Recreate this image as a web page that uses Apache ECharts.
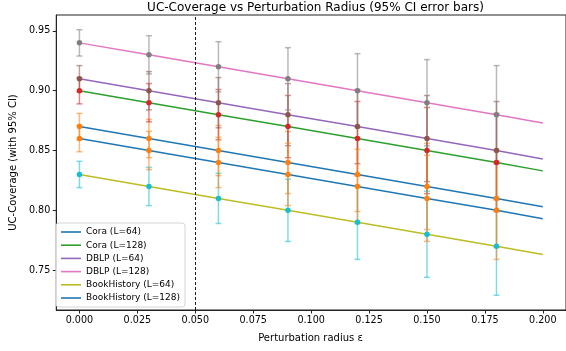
<!DOCTYPE html>
<html>
<head>
<meta charset="utf-8">
<script src="https://cdn.jsdelivr.net/npm/echarts@6/dist/echarts.min.js"></script>
<style>
  html, body { margin: 0; padding: 0; background: #fff; }
  #main { width: 566px; height: 351px; }
</style>
</head>
<body>
<div id="main"></div>
<script>
// x positions of the markers / error bars, line runs on to 0.2
const eps = [0, 0.03, 0.06, 0.09, 0.12, 0.15, 0.18];
const lineEps = [0, 0.03, 0.06, 0.09, 0.12, 0.15, 0.18, 0.2];

const names = ["Cora (L=64)", "Cora (L=128)", "DBLP (L=64)", "DBLP (L=128)", "BookHistory (L=64)", "BookHistory (L=128)"];

// coverage per eps (last value is the line end at 0.2)
const cora64 = [0.870, 0.860, 0.850, 0.840, 0.830, 0.820, 0.810, 0.803];
const cora128 = [0.900, 0.890, 0.880, 0.870, 0.860, 0.850, 0.840, 0.833];
const dblp64 = [0.910, 0.900, 0.890, 0.880, 0.870, 0.860, 0.850, 0.843];
const dblp128 = [0.940, 0.930, 0.920, 0.910, 0.900, 0.890, 0.880, 0.873];
const book64 = [0.830, 0.820, 0.810, 0.800, 0.790, 0.780, 0.770, 0.763];
const book128 = [0.860, 0.850, 0.840, 0.830, 0.820, 0.810, 0.800, 0.793];

// 95% CI half width at each marker (same for all series)
const ciHalf = [0.011, 0.016, 0.021, 0.026, 0.031, 0.036, 0.041];

const xTicks = [0, 0.025, 0.05, 0.075, 0.1, 0.125, 0.15, 0.175, 0.2];
const yTicks = [0.75, 0.8, 0.85, 0.9, 0.95];
const thresh = 0.05;

const lineColors = ["#1f77b4", "#2ca02c", "#9467bd", "#e377c2", "#bcbd22", "#1f77b4"];
const errColors = ["#ff7f0e", "#d62728", "#8c564b", "#7f7f7f", "#17becf", "#ff7f0e"];

const allData = [cora64, cora128, dblp64, dblp128, book64, book128];

function hexA(hex, a) {
  let r = parseInt(hex.slice(1, 3), 16), g = parseInt(hex.slice(3, 5), 16), b = parseInt(hex.slice(5, 7), 16);
  return "rgba(" + r + "," + g + "," + b + "," + a + ")";
}

const font = "DejaVu Sans";
let myChart = echarts.init(document.getElementById("main"));

let series = [];
allData.forEach(function (vals, i) {
  series.push({
    name: names[i],
    type: "line",
    data: lineEps.map(function (x, k) { return [x, vals[k]]; }),
    symbol: "none",
    lineStyle: { color: lineColors[i], width: 1.5 },
    itemStyle: { color: lineColors[i] },
    z: 2,
    animation: false
  });
  let barColor = hexA(errColors[i], 0.55);
  series.push({
    name: names[i] + " CI",
    type: "custom",
    data: eps.map(function (x, k) { return [x, vals[k] - ciHalf[k], vals[k] + ciHalf[k]]; }),
    renderItem: function (params, api) {
      let lo = api.coord([api.value(0), api.value(1)]);
      let hi = api.coord([api.value(0), api.value(2)]);
      let c = 3;
      let st = { stroke: barColor, lineWidth: 1.5 };
      return {
        type: "group",
        children: [
          { type: "line", shape: { x1: lo[0], y1: lo[1], x2: hi[0], y2: hi[1] }, style: st },
          { type: "line", shape: { x1: lo[0] - c, y1: lo[1], x2: lo[0] + c, y2: lo[1] }, style: st },
          { type: "line", shape: { x1: hi[0] - c, y1: hi[1], x2: hi[0] + c, y2: hi[1] }, style: st }
        ]
      };
    },
    encode: { x: 0, y: [1, 2] },
    z: 3,
    animation: false
  });
  series.push({
    name: names[i] + " mean",
    type: "scatter",
    data: eps.map(function (x, k) { return [x, vals[k]]; }),
    symbol: "circle",
    symbolSize: 5.5,
    itemStyle: { color: errColors[i], opacity: 1 },
    z: 4,
    animation: false
  });
});

// dashed threshold line
series.push({
  type: "line",
  data: [],
  markLine: {
    silent: true,
    symbol: "none",
    label: { show: false },
    lineStyle: { color: "#000", type: [3, 2], width: 0.9 },
    data: [{ xAxis: thresh }],
    animation: false
  },
  z: 5
});

let option = {
  animation: false,
  title: {
    text: "UC-Coverage vs Perturbation Radius (95% CI error bars)",
    left: 310.5,
    textAlign: "center",
    top: -3,
    textStyle: { fontFamily: font, fontSize: 12, fontWeight: "normal", color: "#000" }
  },
  graphic: [{
    type: "text",
    x: 310.5,
    y: 338,
    style: {
      text: "Perturbation radius ε",
      fontFamily: font,
      fontSize: 10,
      fill: "#000",
      align: "center",
      verticalAlign: "middle"
    }
  }],
  legend: {
    data: names,
    orient: "vertical",
    left: 56,
    top: 223,
    icon: "rect",
    itemWidth: 20,
    itemHeight: 1.6,
    itemGap: 3.2,
    padding: [4, 5, 4, 5],
    borderColor: "#d5d5d5",
    borderWidth: 1,
    borderRadius: 3,
    backgroundColor: "rgba(255,255,255,0.85)",
    textStyle: { fontFamily: font, fontSize: 9, lineHeight: 10, color: "#000" }
  },
  grid: {
    left: 52.3,
    top: 15,
    width: 516.2,
    height: 295,
    show: true,
    borderColor: "#222",
    borderWidth: 1,
    backgroundColor: "transparent"
  },
  xAxis: {
    type: "value",
    min: -0.01,
    max: 0.21,
    splitLine: { show: false },
    axisLine: { onZero: false, lineStyle: { color: "#222", width: 1 } },
    axisTick: { show: true, length: 3.5, customValues: xTicks, lineStyle: { color: "#222" } },
    axisLabel: {
      customValues: xTicks,
      margin: 5,
      fontFamily: font,
      fontSize: 9.6,
      color: "#000",
      formatter: function (v) { return v.toFixed(3); }
    }
  },
  yAxis: {
    type: "value",
    min: 0.7167,
    max: 0.9633,
    name: "UC-Coverage (with 95% CI)",
    nameLocation: "middle",
    nameGap: 33,
    nameTextStyle: { fontFamily: font, fontSize: 10, color: "#000" },
    splitLine: { show: false },
    axisLine: { show: true, onZero: false, lineStyle: { color: "#222", width: 1 } },
    axisTick: { show: true, length: 3.5, customValues: yTicks, lineStyle: { color: "#222" } },
    axisLabel: {
      customValues: yTicks,
      margin: 6,
      fontFamily: font,
      fontSize: 9.6,
      color: "#000",
      formatter: function (v) { return v.toFixed(2); }
    }
  },
  series: series
};
myChart.setOption(option);
</script>
</body>
</html>
